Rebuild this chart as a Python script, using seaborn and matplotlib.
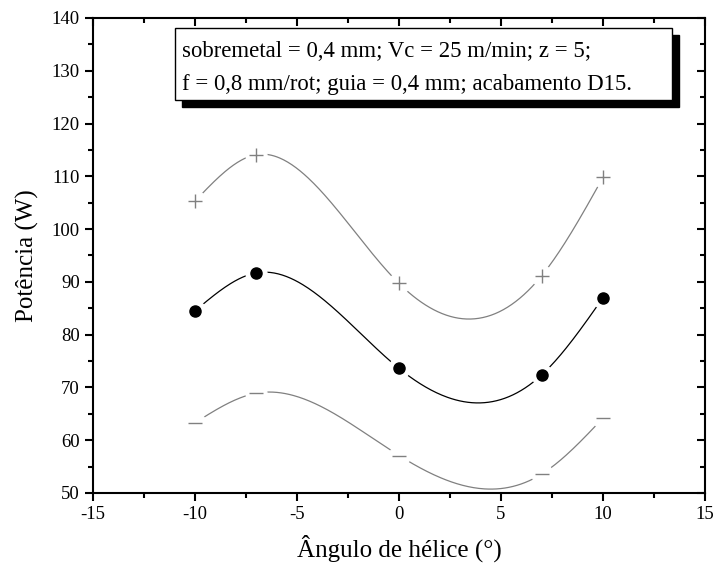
import numpy as np
import pandas as pd
import matplotlib
matplotlib.use("Agg")
import matplotlib.pyplot as plt
from matplotlib.patches import Rectangle
from matplotlib.ticker import MultipleLocator
import seaborn as sns

sns.set_theme(style="ticks")
plt.rcParams['font.family'] = ['Liberation Serif', 'DejaVu Serif']
plt.rcParams['axes.unicode_minus'] = False

# data
angulo = [-10, -7, 0, 7, 10]
pot_media = [84.5, 91.7, 73.6, 72.4, 87.0]
pot_max = [105.3, 114.1, 89.7, 91.2, 109.8]
pot_min = [63.3, 68.9, 57.1, 53.6, 64.2]


def natural_spline(x, y, n=300):
    # cubic spline connection (Origin style "spline" line)
    x = np.asarray(x, float)
    y = np.asarray(y, float)
    k = len(x)
    h = np.diff(x)
    A = np.zeros((k, k))
    b = np.zeros(k)
    A[0, 0] = A[-1, -1] = 1.0
    for i in range(1, k - 1):
        A[i, i - 1] = h[i - 1]
        A[i, i] = 2 * (h[i - 1] + h[i])
        A[i, i + 1] = h[i]
        b[i] = 6 * ((y[i + 1] - y[i]) / h[i] - (y[i] - y[i - 1]) / h[i - 1])
    M = np.linalg.solve(A, b)
    xs = np.linspace(x[0], x[-1], n)
    idx = np.clip(np.searchsorted(x, xs) - 1, 0, k - 2)
    x0, x1 = x[idx], x[idx + 1]
    hh = x1 - x0
    ys = (M[idx] * (x1 - xs) ** 3 / (6 * hh) + M[idx + 1] * (xs - x0) ** 3 / (6 * hh)
          + (y[idx] / hh - M[idx] * hh / 6) * (x1 - xs)
          + (y[idx + 1] / hh - M[idx + 1] * hh / 6) * (xs - x0))
    return xs, ys


fig = plt.figure(figsize=(7.17, 5.69), dpi=100)
ax = fig.add_axes([0.1297, 0.1336, 0.8536, 0.8348])

series = [(pot_max, '#808080', '+', 10, 1.0),
          (pot_media, 'black', 'o', 8, 0),
          (pot_min, '#808080', '_', 10, 1.0)]

for vals, col, mk, ms, mew in series:
    xs, ys = natural_spline(angulo, vals)
    sns.lineplot(x=xs, y=ys, ax=ax, color=col, lw=0.9, sort=False)
    # white halo so the line stops short of the marker
    ax.plot(angulo, vals, ls='none', marker='o', ms=15, mfc='white', mec='white', zorder=3)
    if mk == 'o':
        ax.plot(angulo, vals, ls='none', marker='o', ms=ms, mfc=col, mec=col, zorder=4)
    else:
        ax.plot(angulo, vals, ls='none', marker=mk, ms=ms, mec=col, mew=mew, zorder=4)

ax.set_xlim(-15, 15)
ax.set_ylim(50, 140)
ax.xaxis.set_major_locator(MultipleLocator(5))
ax.xaxis.set_minor_locator(MultipleLocator(2.5))
ax.yaxis.set_major_locator(MultipleLocator(10))
ax.yaxis.set_minor_locator(MultipleLocator(5))

for s in ax.spines.values():
    s.set_linewidth(1.5)
    s.set_color('black')
ax.tick_params(which='both', color='black', width=1.5, labelsize=13.5, labelcolor='black')
ax.tick_params(which='major', length=6)
ax.tick_params(which='minor', length=3.5)
ax.tick_params(which='both', direction='out', top=False, right=False)

# inward ticks on top and right
axt = ax.secondary_xaxis('top')
axt.xaxis.set_major_locator(MultipleLocator(5))
axt.xaxis.set_minor_locator(MultipleLocator(2.5))
axt.tick_params(which='both', direction='in', width=1.5, labeltop=False, color='black')
axt.tick_params(which='major', length=6)
axt.tick_params(which='minor', length=3.5)
axr = ax.secondary_yaxis('right')
axr.yaxis.set_major_locator(MultipleLocator(10))
axr.yaxis.set_minor_locator(MultipleLocator(5))
axr.tick_params(which='both', direction='in', width=1.5, labelright=False, color='black')
axr.tick_params(which='major', length=6)
axr.tick_params(which='minor', length=3.5)

ax.set_xlabel('Ângulo de hélice (°)', fontsize=18, color='black', labelpad=8)
ax.set_ylabel('Potência (W)', fontsize=18, color='black', labelpad=9)

# annotation box with shadow
bx0, bx1 = 0.134, 0.946
by0, by1 = 0.827, 0.979
dx, dy = 7 / 612, 7 / 475
ax.add_patch(Rectangle((bx0 + dx, by0 - dy), bx1 - bx0, by1 - by0, transform=ax.transAxes,
                       facecolor='black', edgecolor='black', zorder=5))
ax.add_patch(Rectangle((bx0, by0), bx1 - bx0, by1 - by0, transform=ax.transAxes,
                       facecolor='white', edgecolor='black', lw=1.0, zorder=6))
ax.text(0.146, 0.895, 'sobremetal = 0,4 mm; Vc = 25 m/min; z = 5;\n'
        'f = 0,8 mm/rot; guia = 0,4 mm; acabamento D15.',
        transform=ax.transAxes, fontsize=16.4, va='center', ha='left',
        linespacing=1.72, zorder=7, color='black')

fig.savefig('out.png', dpi=100)
